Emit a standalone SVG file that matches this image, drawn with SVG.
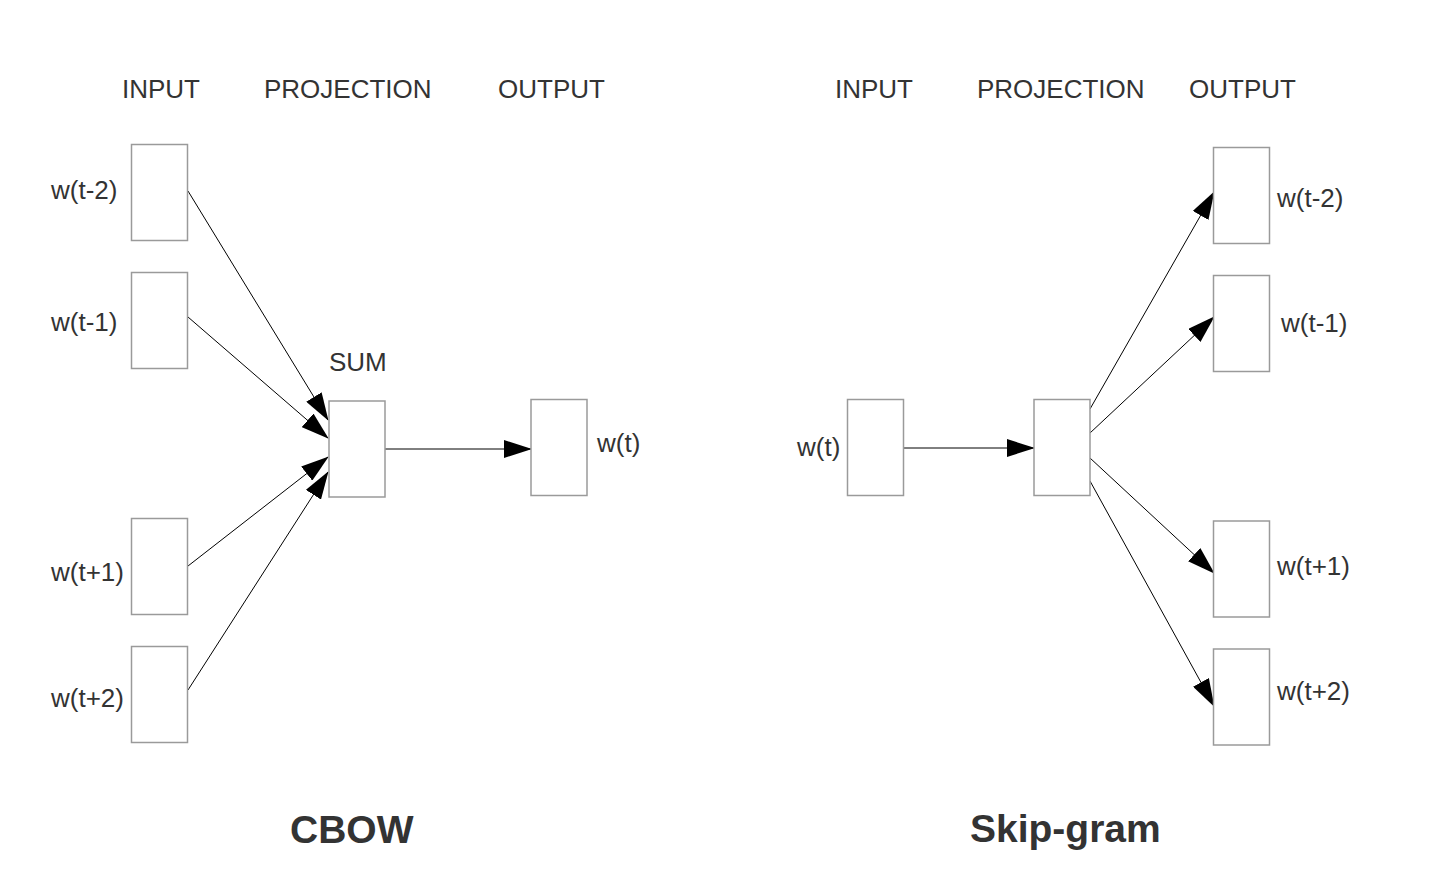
<svg xmlns="http://www.w3.org/2000/svg" width="1448" height="886" viewBox="0 0 1448 886">
<style>
.box{fill:#fff;stroke:#9a9a9a;stroke-width:1.5}
.t{font-family:"Liberation Sans",Arial,sans-serif;font-size:26px;fill:#333}
.title{font-family:"Liberation Sans",Arial,sans-serif;font-size:39px;font-weight:bold;fill:#333}
.ln{stroke:#000;stroke-width:1;fill:none;marker-end:url(#ah)}
</style>
<defs>
<marker id="ah" markerUnits="userSpaceOnUse" markerWidth="28" markerHeight="18" refX="27" refY="9" orient="auto">
<path d="M0,0 L28,9 L0,18 z" fill="#000"/>
</marker>
</defs>
<rect width="1448" height="886" fill="#fff"/>
<g id="headers">
<text class="t" x="122" y="98">INPUT</text>
<text class="t" x="264" y="98">PROJECTION</text>
<text class="t" x="498" y="98">OUTPUT</text>
<text class="t" x="835" y="98">INPUT</text>
<text class="t" x="977" y="98">PROJECTION</text>
<text class="t" x="1189" y="98">OUTPUT</text>
</g>
<g id="connectors">
<line class="ln" x1="188" y1="191" x2="328" y2="420"/>
<line class="ln" x1="188" y1="317" x2="328" y2="438"/>
<line class="ln" x1="188" y1="566" x2="328" y2="457"/>
<line class="ln" x1="188" y1="690" x2="328" y2="472"/>
<line class="ln" x1="384" y1="449" x2="531" y2="449"/>
<line class="ln" x1="902" y1="448" x2="1034" y2="448"/>
<line class="ln" x1="1090" y1="409" x2="1214" y2="192"/>
<line class="ln" x1="1090" y1="433" x2="1214" y2="317"/>
<line class="ln" x1="1090" y1="458" x2="1214" y2="573"/>
<line class="ln" x1="1090" y1="481" x2="1214" y2="706"/>
</g>
<g id="cbow-in-t-2"><rect class="box" x="131.5" y="144.5" width="56" height="96"/><text class="t" x="51" y="199">w(t-2)</text></g>
<g id="cbow-in-t-1"><rect class="box" x="131.5" y="272.5" width="56" height="96"/><text class="t" x="51" y="331">w(t-1)</text></g>
<g id="cbow-in-t+1"><rect class="box" x="131.5" y="518.5" width="56" height="96"/><text class="t" x="51" y="581">w(t+1)</text></g>
<g id="cbow-in-t+2"><rect class="box" x="131.5" y="646.5" width="56" height="96"/><text class="t" x="51" y="707">w(t+2)</text></g>
<g id="cbow-sum"><rect class="box" x="329" y="401" width="56" height="96"/><text class="t" x="329" y="371">SUM</text></g>
<g id="cbow-out"><rect class="box" x="531" y="399.5" width="56" height="96"/><text class="t" x="597" y="452">w(t)</text></g>
<g id="sg-in"><rect class="box" x="847.5" y="399.5" width="56" height="96"/><text class="t" x="797" y="456">w(t)</text></g>
<g id="sg-proj"><rect class="box" x="1034" y="399.5" width="56" height="96"/></g>
<g id="sg-out-t-2"><rect class="box" x="1213.5" y="147.5" width="56" height="96"/><text class="t" x="1277" y="207">w(t-2)</text></g>
<g id="sg-out-t-1"><rect class="box" x="1213.5" y="275.5" width="56" height="96"/><text class="t" x="1281" y="332">w(t-1)</text></g>
<g id="sg-out-t+1"><rect class="box" x="1213.5" y="521" width="56" height="96"/><text class="t" x="1277" y="575">w(t+1)</text></g>
<g id="sg-out-t+2"><rect class="box" x="1213.5" y="649" width="56" height="96"/><text class="t" x="1277" y="700">w(t+2)</text></g>
<g id="titles">
<text class="title" x="290" y="843">CBOW</text>
<text class="title" x="970" y="842">Skip-gram</text>
</g>
</svg>
